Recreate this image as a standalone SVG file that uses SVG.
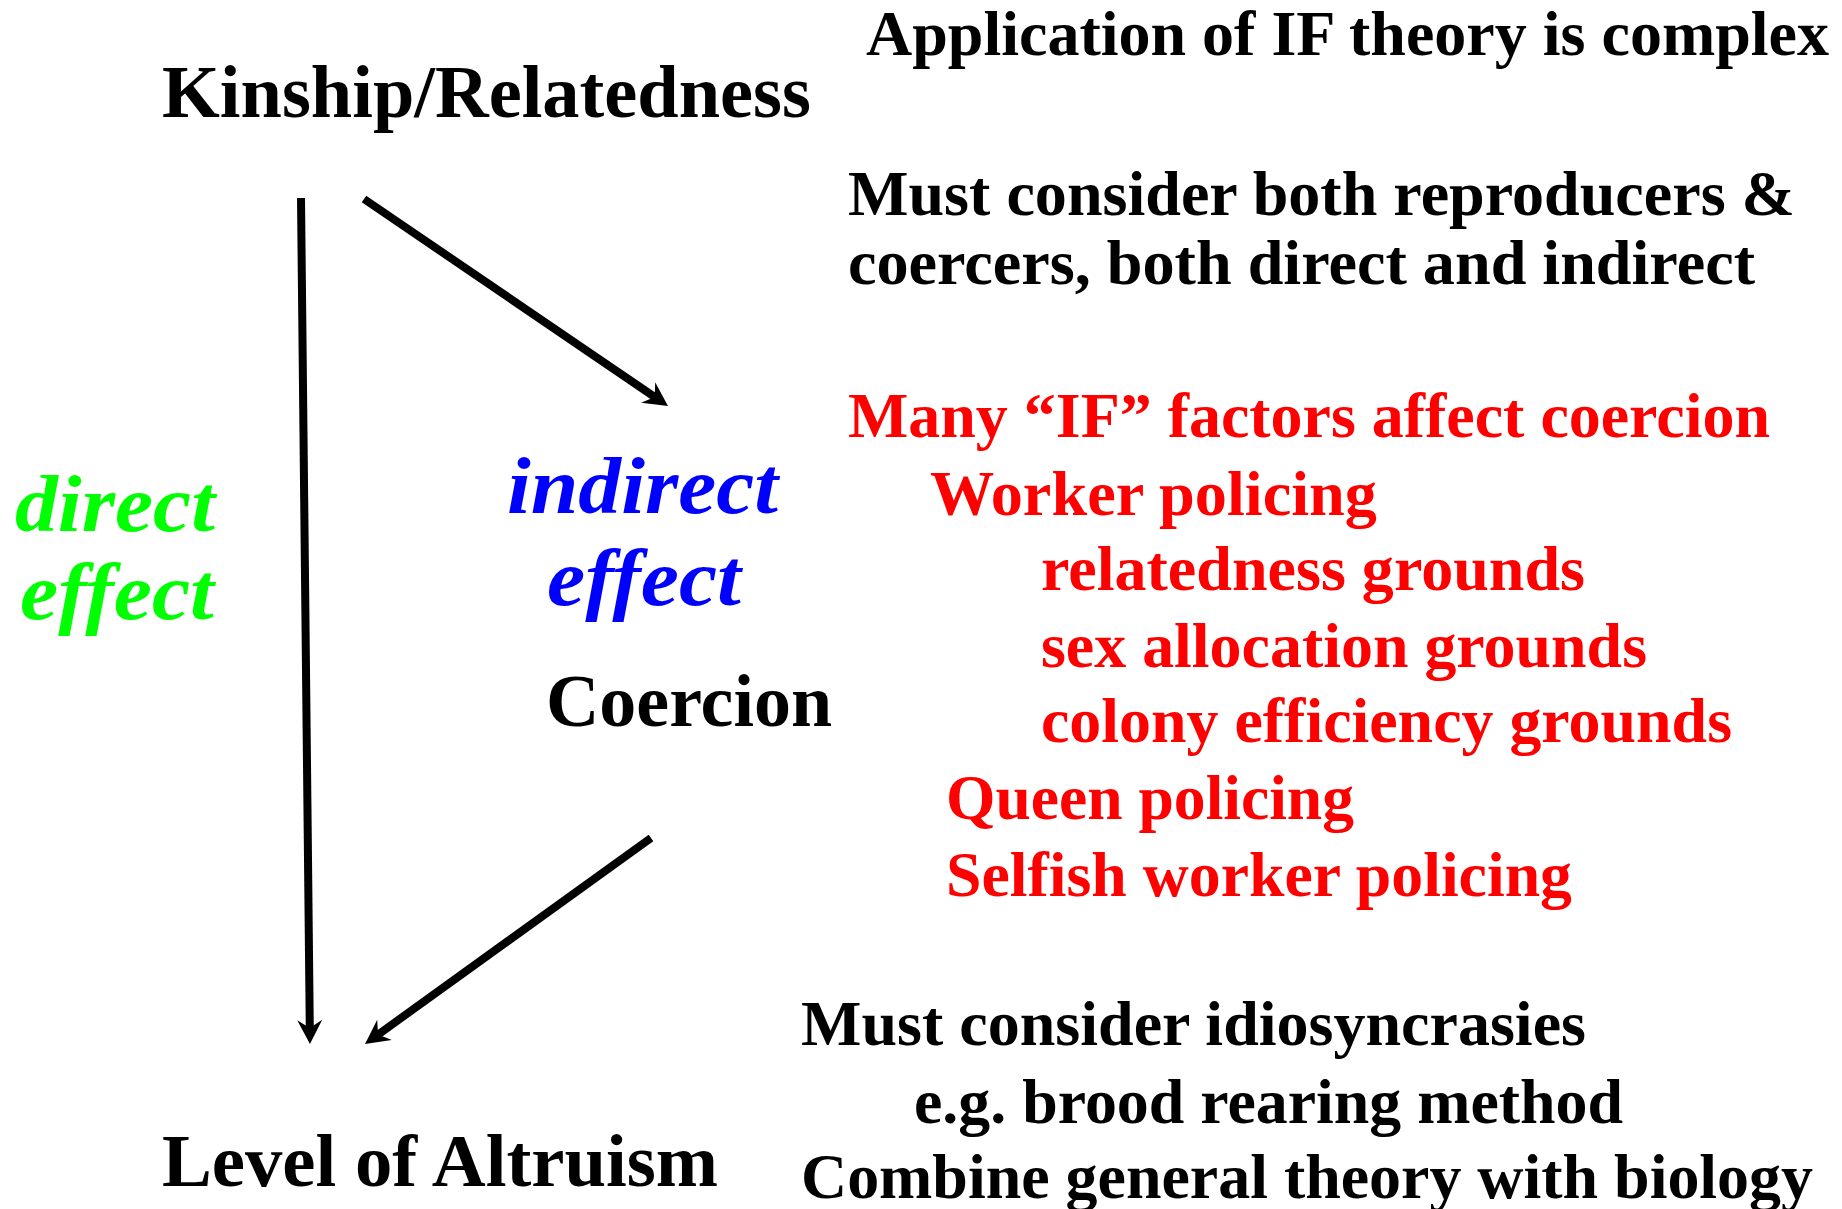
<svg xmlns="http://www.w3.org/2000/svg" width="1842" height="1209" viewBox="0 0 1842 1209">
<style>
text { font-family: "Liberation Serif", "Times New Roman", serif; font-weight: bold; }
.big { font-size: 74px; fill: #000; }
.body { font-size: 64px; fill: #000; }
.red { font-size: 64px; fill: #FF0000; }
.it { font-size: 80px; font-style: italic; }
.blue { fill: #0000FF; }
.green { fill: #00FF00; }
.conn { stroke: #000; stroke-width: 8; fill: none; marker-end: url(#arrow); }
</style>
<defs>
<marker id="arrow" markerUnits="userSpaceOnUse" markerWidth="40" markerHeight="40" viewBox="-15 -20 40 40" refX="0" refY="0" orient="auto">
<path d="M 15 0 L -9 -12.5 L -1 0 L -9 12.5 Z" fill="#000"/>
</marker>
</defs>
<rect width="1842" height="1209" fill="#fff"/>
<g id="connectors">
<line class="conn" x1="301" y1="198" x2="309.8" y2="1029"/>
<line class="conn" x1="364" y1="199" x2="655.6" y2="397.6"/>
<line class="conn" x1="651" y1="838" x2="377.2" y2="1035.2"/>
</g>
<g id="node-kinship"><text class="big" x="162" y="117" textLength="649" lengthAdjust="spacingAndGlyphs">Kinship/Relatedness</text></g>
<g id="node-coercion"><text class="big" x="546" y="726" textLength="286" lengthAdjust="spacingAndGlyphs">Coercion</text></g>
<g id="node-altruism"><text class="big" x="162" y="1186" textLength="556" lengthAdjust="spacingAndGlyphs">Level of Altruism</text></g>
<g id="label-direct">
<text class="it green" x="15" y="531" textLength="200" lengthAdjust="spacingAndGlyphs">direct</text>
<text class="it green" x="20" y="619" textLength="194" lengthAdjust="spacingAndGlyphs">effect</text>
</g>
<g id="label-indirect">
<text class="it blue" x="507" y="513" textLength="271" lengthAdjust="spacingAndGlyphs">indirect</text>
<text class="it blue" x="547" y="605" textLength="194" lengthAdjust="spacingAndGlyphs">effect</text>
</g>
<g id="note-title"><text class="body" x="866" y="55" textLength="963" lengthAdjust="spacingAndGlyphs">Application of IF theory is complex</text></g>
<g id="note-consider">
<text class="body" x="848" y="215" textLength="947" lengthAdjust="spacingAndGlyphs">Must consider both reproducers &amp;</text>
<text class="body" x="848" y="284" textLength="907" lengthAdjust="spacingAndGlyphs">coercers, both direct and indirect</text>
</g>
<g id="note-factors">
<text class="red" x="848" y="437" textLength="922" lengthAdjust="spacingAndGlyphs">Many “IF” factors affect coercion</text>
<text class="red" x="930" y="515" textLength="447" lengthAdjust="spacingAndGlyphs">Worker policing</text>
<text class="red" x="1041" y="590" textLength="544" lengthAdjust="spacingAndGlyphs">relatedness grounds</text>
<text class="red" x="1041" y="667" textLength="606" lengthAdjust="spacingAndGlyphs">sex allocation grounds</text>
<text class="red" x="1041" y="742" textLength="691" lengthAdjust="spacingAndGlyphs">colony efficiency grounds</text>
<text class="red" x="946" y="819" textLength="408" lengthAdjust="spacingAndGlyphs">Queen policing</text>
<text class="red" x="946" y="896" textLength="626" lengthAdjust="spacingAndGlyphs">Selfish worker policing</text>
</g>
<g id="note-idiosyncrasies">
<text class="body" x="801" y="1045" textLength="785" lengthAdjust="spacingAndGlyphs">Must consider idiosyncrasies</text>
<text class="body" x="914" y="1123" textLength="709" lengthAdjust="spacingAndGlyphs">e.g. brood rearing method</text>
<text class="body" x="801" y="1198" textLength="1012" lengthAdjust="spacingAndGlyphs">Combine general theory with biology</text>
</g>
</svg>
